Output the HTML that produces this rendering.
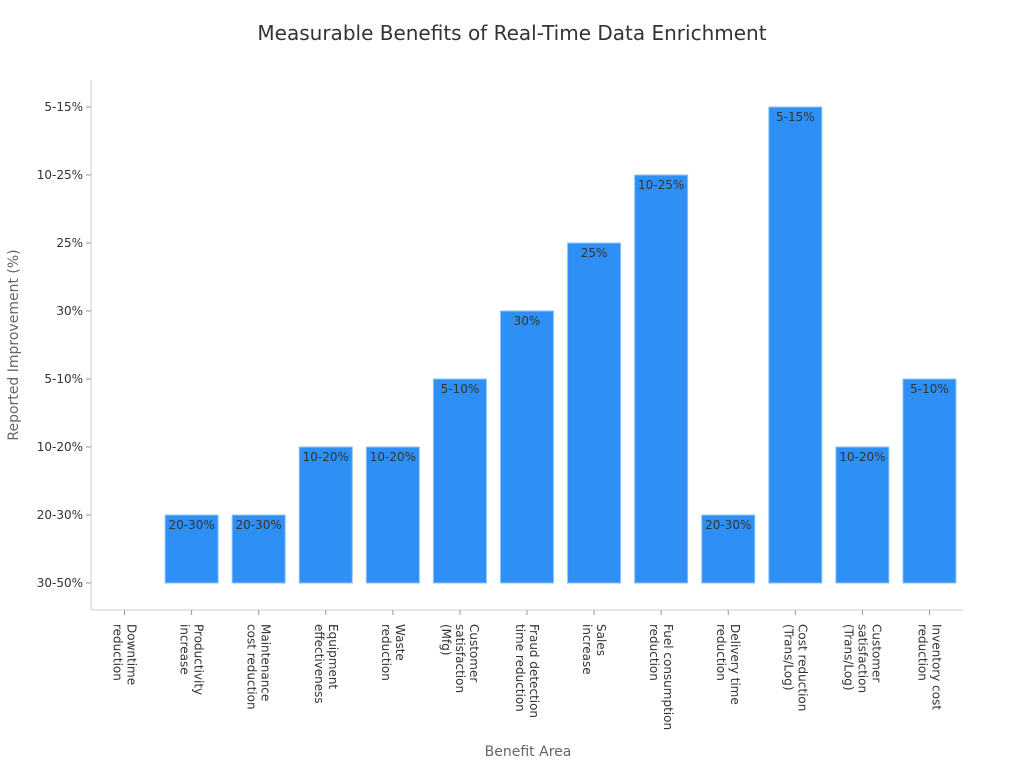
<!DOCTYPE html>
<html><head><meta charset="utf-8"><style>
body{margin:0;background:#fff;font-family:"DejaVu Sans","Liberation Sans",sans-serif;}
svg{display:block;font-family:"DejaVu Sans","Liberation Sans",sans-serif;}
</style></head><body>
<svg id="chart" width="1024" height="768">
<text x="512" y="40" text-anchor="middle" font-size="20" fill="#333">Measurable Benefits of Real-Time Data Enrichment</text>
<text x="0" y="0" transform="translate(18,345) rotate(-90)" text-anchor="middle" font-size="14" fill="#666">Reported Improvement (%)</text>
<text x="528" y="756" text-anchor="middle" font-size="14" fill="#666">Benefit Area</text>
<g id="plot"></g>
</svg>
<script>
const categories=[["Downtime","reduction"],["Productivity","increase"],["Maintenance","cost reduction"],["Equipment","effectiveness"],["Waste","reduction"],["Customer","satisfaction","(Mfg)"],["Fraud detection","time reduction"],["Sales","increase"],["Fuel consumption","reduction"],["Delivery time","reduction"],["Cost reduction","(Trans/Log)"],["Customer","satisfaction","(Trans/Log)"],["Inventory cost","reduction"]];
const yLevels=["30-50%","20-30%","10-20%","5-10%","30%","25%","10-25%","5-15%"];
const values=["30-50%","20-30%","20-30%","10-20%","10-20%","5-10%","30%","25%","10-25%","20-30%","5-15%","10-20%","5-10%"];
const NS="http://www.w3.org/2000/svg";
const g=document.getElementById('plot');
const L=91,R=963,B=610,T=80;
const band=(R-L)/categories.length;
const xc=i=>L+band*(i+0.5);
const yc=i=>583-68*i;
function mk(tag,attrs,parent){const e=document.createElementNS(NS,tag);for(const k in attrs)e.setAttribute(k,attrs[k]);(parent||g).appendChild(e);return e;}
let a=mk('line',{x1:L,y1:T,x2:L,y2:B,stroke:'#ccc'});


a=mk('line',{x1:L,y1:B,x2:R,y2:B,stroke:'#ccc'});


yLevels.forEach((lv,i)=>{
 const y=yc(i);
 const t=mk('line',{x1:L-5,y1:y,x2:L,y2:y,stroke:'#999'});
 
 
 const tx=mk('text',{x:L-8,y:y+4,'text-anchor':'end','font-size':12,fill:'#333'});
 tx.textContent=lv;
 
 
});
const bw=53;
values.forEach((v,i)=>{
 const idx=yLevels.indexOf(v);
 const x=xc(i), top=yc(idx), base=yc(0);
 if(base-top>0){
  const r=mk('rect',{x:x-bw/2,y:top,width:bw,height:base-top,fill:'#2E90F5',stroke:'#8cc3fa','stroke-width':1});
  
  
  const lt=mk('text',{x:x,y:top+14,'text-anchor':'middle','font-size':12,fill:'#333'});
  lt.textContent=v;
  
  
 }
 const tk=mk('line',{x1:x,y1:B,x2:x,y2:B+5,stroke:'#999'});
 
 
 const lines=categories[i];
 const n=lines.length;
 const tx=mk('text',{transform:`translate(${x},624) rotate(90)`,'font-size':12,fill:'#333'});
 
 
 lines.forEach((ln,j)=>{
  const s=mk('tspan',{x:0,y:(-(n-1)/2+j)*14+4},tx);
  s.textContent=ln;
 });
});
</script>
</body></html>
